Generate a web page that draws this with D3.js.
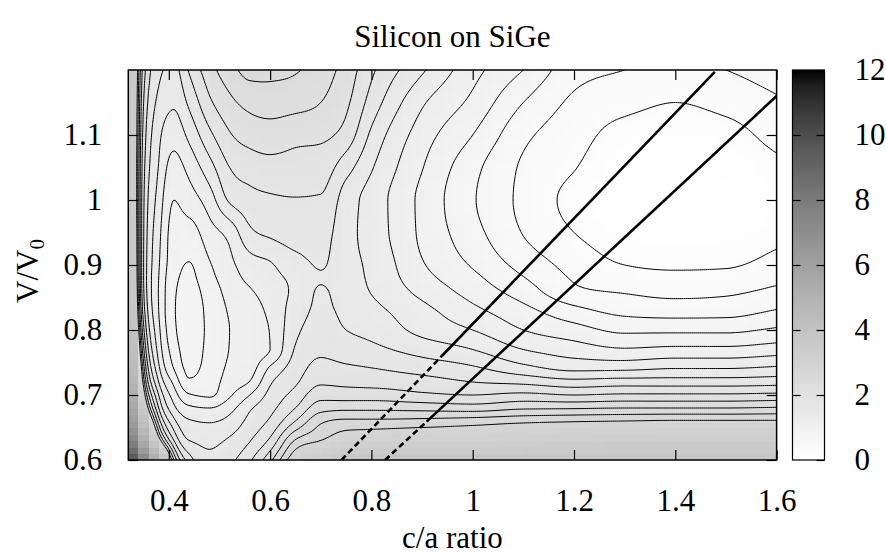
<!DOCTYPE html>
<meta charset="utf-8">
<style>
body { margin: 0; background: #fff; }
svg text { font-family: "Liberation Serif", "Times New Roman", serif; fill: #000; }
</style>
<body>
<svg id="chart" width="886" height="555"></svg>
<script src="https://cdn.jsdelivr.net/npm/d3@7"></script>
<script>

// grid of the energy map: c/a ratio columns, V/V0 rows (bottom to top)
var caRatio = [0.32, 0.35, 0.38, 0.41, 0.44, 0.48, 0.52, 0.56, 0.60, 0.65, 0.70,
               0.75, 0.80, 0.90, 1.00, 1.10, 1.20, 1.30, 1.40, 1.50, 1.60];
var volume = [0.60, 0.63, 0.66, 0.68, 0.70, 0.72, 0.74, 0.77, 0.80, 0.83,
              0.86, 0.88, 0.90, 0.95, 1.00, 1.05, 1.10, 1.15, 1.20];

// energy, one row per volume value
var energy = [
  [11.0, 7.5, 4.6, 2.6, 1.9, 1.65, 1.75, 1.97, 2.35, 3.0, 3.4, 3.7, 3.8, 3.85, 3.85, 3.85, 3.85, 3.85, 3.85, 3.85, 3.85],
  [8.8, 5.2, 3.0, 2.0, 1.6, 1.55, 1.63, 1.79, 2.04, 2.62, 2.8, 3.0, 3.05, 3.1, 3.1, 3.2, 3.25, 3.3, 3.3, 3.3, 3.3],
  [7.4, 4.0, 2.3, 1.65, 1.42, 1.38, 1.46, 1.66, 1.83, 2.2, 2.56, 2.64, 2.64, 2.66, 2.70, 2.75, 2.78, 2.80, 2.82, 2.82, 2.82],
  [6.8, 3.4, 2.0, 1.45, 1.24, 1.2, 1.33, 1.57, 1.74, 2.0, 2.32, 2.35, 2.35, 2.33, 2.30, 2.37, 2.38, 2.40, 2.40, 2.40, 2.42],
  [6.3, 3.0, 1.8, 1.3, 1.02, 0.97, 1.17, 1.40, 1.66, 1.87, 2.12, 2.1, 2.1, 2.04, 2.00, 2.05, 2.00, 2.03, 2.03, 2.03, 2.05],
  [5.9, 2.7, 1.6, 1.15, 0.83, 0.9, 1.09, 1.21, 1.57, 1.77, 1.97, 1.95, 1.93, 1.88, 1.80, 1.75, 1.67, 1.70, 1.70, 1.70, 1.72],
  [5.6, 2.5, 1.45, 1.0, 0.76, 0.87, 1.04, 1.12, 1.44, 1.7, 1.87, 1.84, 1.81, 1.73, 1.64, 1.48, 1.36, 1.37, 1.41, 1.41, 1.45],
  [5.3, 2.25, 1.32, 0.9, 0.72, 0.85, 1.005, 1.08, 1.2, 1.62, 1.76, 1.7, 1.65, 1.52, 1.40, 1.20, 1.10, 1.02, 1.05, 1.05, 1.10],
  [5.1, 2.05, 1.25, 0.84, 0.71, 0.84, 1.0, 1.07, 1.21, 1.55, 1.69, 1.6, 1.54, 1.34, 1.20, 1.00, 0.88, 0.76, 0.76, 0.76, 0.83],
  [4.9, 1.9, 1.2, 0.82, 0.71, 0.85, 1.02, 1.1, 1.25, 1.49, 1.64, 1.55, 1.46, 1.26, 1.05, 0.86, 0.66, 0.54, 0.51, 0.52, 0.61],
  [4.8, 1.82, 1.19, 0.83, 0.73, 0.89, 1.07, 1.18, 1.3, 1.44, 1.62, 1.5, 1.39, 1.14, 0.92, 0.70, 0.44, 0.38, 0.34, 0.36, 0.44],
  [4.75, 1.8, 1.2, 0.85, 0.76, 0.94, 1.11, 1.25, 1.34, 1.45, 1.585, 1.48, 1.37, 1.07, 0.85, 0.61, 0.38, 0.28, 0.25, 0.26, 0.35],
  [4.7, 1.8, 1.22, 0.88, 0.79, 0.98, 1.15, 1.31, 1.38, 1.52, 1.615, 1.47, 1.36, 1.02, 0.78, 0.53, 0.33, 0.20, 0.17, 0.18, 0.27],
  [4.6, 1.81, 1.26, 0.93, 0.92, 1.12, 1.27, 1.56, 1.64, 1.70, 1.68, 1.47, 1.32, 0.96, 0.67, 0.39, 0.20, 0.09, 0.07, 0.08, 0.15],
  [4.5, 1.83, 1.32, 1.0, 1.1, 1.3, 1.63, 1.73, 1.77, 1.79, 1.78, 1.5, 1.32, 0.95, 0.62, 0.35, 0.14, 0.04, 0.01, 0.03, 0.10],
  [4.45, 1.87, 1.39, 1.12, 1.26, 1.52, 1.8, 1.89, 1.93, 1.92, 1.9, 1.68, 1.42, 1.01, 0.66, 0.37, 0.21, 0.06, 0.02, 0.05, 0.15],
  [4.4, 1.93, 1.45, 1.28, 1.45, 1.75, 1.98, 2.08, 2.11, 2.06, 2.04, 1.92, 1.56, 1.10, 0.80, 0.45, 0.28, 0.13, 0.10, 0.13, 0.27],
  [4.4, 2.0, 1.55, 1.43, 1.64, 1.96, 2.15, 2.26, 2.29, 2.27, 2.2, 2.04, 1.72, 1.23, 0.95, 0.60, 0.36, 0.26, 0.20, 0.26, 0.37],
  [4.4, 2.1, 1.65, 1.55, 1.82, 2.12, 2.32, 2.47, 2.46, 2.42, 2.3, 2.12, 1.84, 1.43, 1.07, 0.80, 0.48, 0.40, 0.33, 0.40, 0.50]
];

// epitaxial strain paths (dashed part, then solid part)
var strainLines = [
  {dashed: [[0.741, 0.60], [0.939, 0.760]], solid: [[0.939, 0.760], [1.478, 1.197]]},
  {dashed: [[0.827, 0.60], [0.909, 0.659]], solid: [[0.909, 0.659], [1.600, 1.160]]}
];

var contourLevels = d3.range(1, 15).map(function(k) { return +(k * 0.2).toFixed(1); });
var xTicks = [0.4, 0.6, 0.8, 1, 1.2, 1.4, 1.6];
var yTicks = [0.6, 0.7, 0.8, 0.9, 1, 1.1];
var cbTicks = [0, 2, 4, 6, 8, 10, 12];

var plot = {left: 128.3, right: 776.6, top: 70, bottom: 460};
var cb = {left: 792.5, right: 824.5};
var fontSize = 31;

var svg = d3.select("#chart");

var x = d3.scaleLinear().domain([0.32, 1.6]).range([plot.left, plot.right]);
var y = d3.scaleLinear().domain([0.6, 1.2]).range([plot.bottom, plot.top]);
var cbScale = d3.scaleLinear().domain([0, 12]).range([plot.bottom, plot.top]);
// negative grey palette with gamma 1.5
function grey(v) {
  var z = Math.max(0, Math.min(1, v / 12));
  var g = Math.round(255 * Math.pow(1 - z, 1 / 1.5));
  return d3.rgb(g, g, g).formatHex();
}

// monotone (Steffen) cubic through the grid nodes, used to draw smooth lines
function monotone(xs, ys) {
  var n = xs.length, h = [], s = [], m = [];
  for (var i = 0; i < n - 1; i++) { h[i] = xs[i + 1] - xs[i]; s[i] = (ys[i + 1] - ys[i]) / h[i]; }
  m[0] = s[0]; m[n - 1] = s[n - 2];
  for (var i = 1; i < n - 1; i++) {
    var p = (s[i - 1] * h[i] + s[i] * h[i - 1]) / (h[i - 1] + h[i]);
    m[i] = (Math.sign(s[i - 1]) + Math.sign(s[i])) *
           Math.min(Math.abs(s[i - 1]), Math.abs(s[i]), 0.5 * Math.abs(p));
  }
  return function(t) {
    if (t <= xs[0]) return ys[0];
    if (t >= xs[n - 1]) return ys[n - 1];
    var i = Math.min(d3.bisectRight(xs, t) - 1, n - 2);
    var d = h[i], u = (t - xs[i]) / d, u2 = u * u, u3 = u2 * u;
    return (2 * u3 - 3 * u2 + 1) * ys[i] + (u3 - 2 * u2 + u) * d * m[i] +
           (-2 * u3 + 3 * u2) * ys[i + 1] + (u3 - u2) * d * m[i + 1];
  };
}

function resample(gx, gy) {
  var rowsFine = energy.map(function(row) { return gx.map(monotone(caRatio, row)); });
  var cols = gx.map(function(_, i) {
    return monotone(volume, rowsFine.map(function(r) { return r[i]; }));
  });
  return gy.map(function(v) { return cols.map(function(f) { return f(v); }); });
}

svg.append("defs").append("clipPath").attr("id", "plotClip")
  .append("rect")
  .attr("x", plot.left).attr("y", plot.top)
  .attr("width", plot.right - plot.left).attr("height", plot.bottom - plot.top);

// heat map: quads between nodes, coloured by the mean of their corners
var hx = d3.range(65).map(function(i) { return 0.32 + i * 0.02; });
var hy = d3.range(61).map(function(j) { return 0.60 + j * 0.01; });
var heat = resample(hx, hy);
var cells = [];
for (var j = 0; j < hy.length - 1; j++) {
  for (var i = 0; i < hx.length - 1; i++) {
    cells.push({x0: hx[i], x1: hx[i + 1], y0: hy[j], y1: hy[j + 1],
      v: (heat[j][i] + heat[j][i + 1] + heat[j + 1][i] + heat[j + 1][i + 1]) / 4});
  }
}

var plotG = svg.append("g").attr("clip-path", "url(#plotClip)");
plotG.append("g").attr("shape-rendering", "crispEdges")
  .selectAll("rect").data(cells).join("rect")
  .attr("x", function(d) { return x(d.x0); })
  .attr("y", function(d) { return y(d.y1); })
  .attr("width", function(d) { return x(d.x1) - x(d.x0) + 0.6; })
  .attr("height", function(d) { return y(d.y0) - y(d.y1) + 0.6; })
  .attr("fill", function(d) { return grey(d.v); });

// contour lines
var step = 0.004;
var gx = d3.range(321).map(function(i) { return 0.32 + i * step; });
var gy = d3.range(151).map(function(j) { return 1.2 - j * step; });
var field = resample(gx, gy);
var values = [].concat.apply([], field);
var contours = d3.contours().size([gx.length, gy.length]).thresholds(contourLevels)(values);
var toPlot = d3.geoTransform({
  point: function(px, py) {
    this.stream.point(x(0.32 + (px - 0.5) * step), y(1.2 - (py - 0.5) * step));
  }
});
plotG.append("g")
  .selectAll("path").data(contours).join("path")
  .attr("d", d3.geoPath(toPlot))
  .attr("fill", "none")
  .attr("stroke", "#000")
  .attr("stroke-width", 1);

// strain lines
var line = d3.line().x(function(d) { return x(d[0]); }).y(function(d) { return y(d[1]); });
var sl = plotG.append("g").attr("fill", "none").attr("stroke", "#000").attr("stroke-width", 2.6);
strainLines.forEach(function(s) {
  sl.append("path").attr("d", line(s.dashed)).attr("stroke-dasharray", "6,3.5");
  sl.append("path").attr("d", line(s.solid));
});

// frame
svg.append("rect")
  .attr("x", plot.left).attr("y", plot.top)
  .attr("width", plot.right - plot.left).attr("height", plot.bottom - plot.top)
  .attr("fill", "none").attr("stroke", "#000").attr("stroke-width", 1.5);

function styleAxis(g) {
  g.select(".domain").remove();
  g.selectAll(".tick line").attr("stroke", "#000").attr("stroke-width", 1.2);
  g.attr("font-family", null).attr("font-size", fontSize);
  g.selectAll("text").attr("fill", "#000");
}

svg.append("g").attr("transform", "translate(0," + plot.bottom + ")")
  .call(d3.axisBottom(x).tickValues(xTicks).tickFormat(String).tickSize(-10).tickPadding(29))
  .call(styleAxis);
svg.append("g").attr("transform", "translate(0," + plot.top + ")")
  .call(d3.axisTop(x).tickValues(xTicks).tickFormat("").tickSize(-10))
  .call(styleAxis);
svg.append("g").attr("transform", "translate(" + plot.left + ",0)")
  .call(d3.axisLeft(y).tickValues(yTicks).tickFormat(String).tickSize(-10).tickPadding(26))
  .call(styleAxis);
svg.append("g").attr("transform", "translate(" + plot.right + ",0)")
  .call(d3.axisRight(y).tickValues(yTicks).tickFormat("").tickSize(-10))
  .call(styleAxis);

// colour box
var grad = svg.select("defs").append("linearGradient").attr("id", "cbGrad")
  .attr("x1", 0).attr("y1", 1).attr("x2", 0).attr("y2", 0);
grad.selectAll("stop").data(d3.range(0, 12.01, 0.5)).join("stop")
  .attr("offset", function(d) { return d / 12; })
  .attr("stop-color", function(d) { return grey(d); });
svg.append("rect")
  .attr("x", cb.left).attr("y", plot.top)
  .attr("width", cb.right - cb.left).attr("height", plot.bottom - plot.top)
  .attr("fill", "url(#cbGrad)").attr("stroke", "#000").attr("stroke-width", 1.2);
svg.append("g").attr("transform", "translate(" + cb.right + ",0)")
  .call(d3.axisRight(cbScale).tickValues(cbTicks).tickFormat(String).tickSize(-8).tickPadding(30))
  .call(styleAxis);
svg.append("g").attr("transform", "translate(" + cb.left + ",0)")
  .call(d3.axisLeft(cbScale).tickValues(cbTicks.slice(1, -1)).tickFormat("").tickSize(-8))
  .call(styleAxis);

// titles
svg.append("text").attr("x", (plot.left + plot.right) / 2).attr("y", 47)
  .attr("text-anchor", "middle").attr("font-size", fontSize).text("Silicon on SiGe");
svg.append("text").attr("x", (plot.left + plot.right) / 2).attr("y", 548)
  .attr("text-anchor", "middle").attr("font-size", fontSize).text("c/a ratio");
var yl = svg.append("text").attr("transform", "translate(38,271) rotate(-90)")
  .attr("text-anchor", "middle").attr("font-size", fontSize);
yl.append("tspan").text("V/V");
yl.append("tspan").attr("font-size", 21).attr("dy", 6).text("0");

</script>
</body>
